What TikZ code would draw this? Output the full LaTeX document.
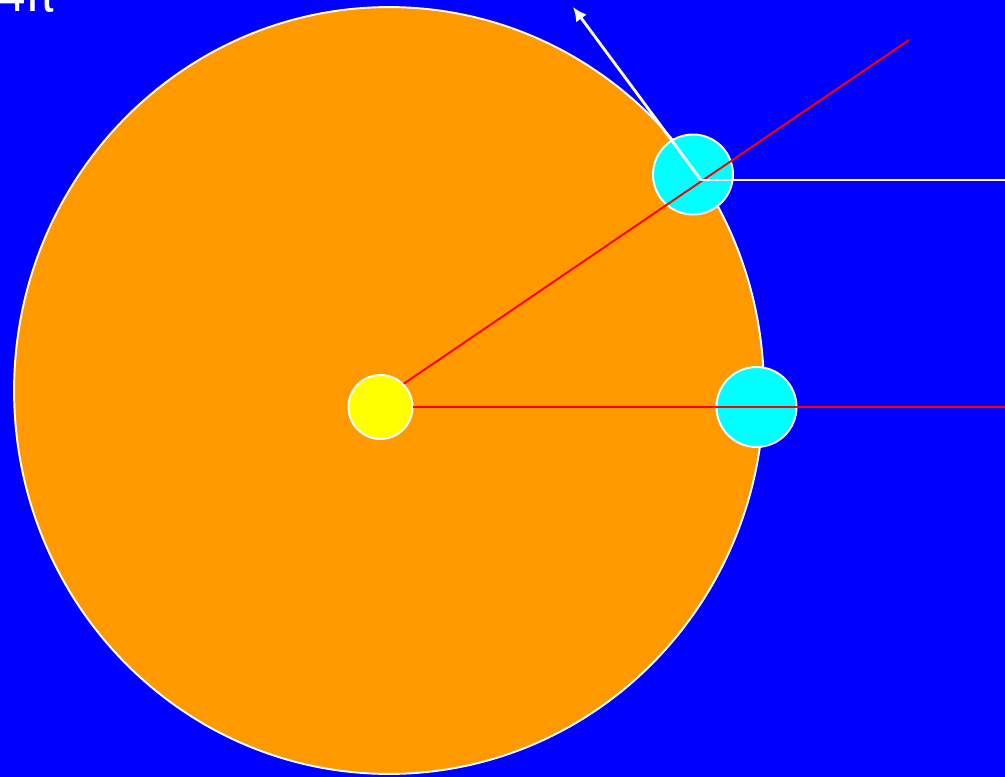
\documentclass[tikz,border=0pt]{standalone}
\usepackage{fontspec}
\setmainfont{Liberation Sans}
\newfontfamily\dejavu{DejaVu Sans}
\usetikzlibrary{arrows.meta}
\definecolor{skyblue}{HTML}{0000FF}
\definecolor{sunorange}{HTML}{FF9900}
\definecolor{moonfill}{HTML}{00FFFF}
\definecolor{corefill}{HTML}{FFFF00}
\tikzset{
  moonball/.style={circle, draw=white, fill=moonfill, line width=1.1pt,
                   minimum size=1.6cm, inner sep=0pt},
  coreball/.style={circle, draw=white, fill=corefill, line width=1.1pt,
                   minimum size=1.28cm, inner sep=0pt},
  ray/.style={red, line width=1.1pt},
  wline/.style={white, line width=1.2pt},
  warr/.style={-{Latex[length=8pt,width=7.5pt]}, white, line width=1.6pt},
}

\begin{document}
\begin{tikzpicture}[x=0.02cm, y=-0.02cm]
  %% Frame
  \useasboundingbox (0,0) rectangle (1005,777);
  \fill[skyblue] (0,0) rectangle (1005,777);

  %% Label, cut off at the top
  \node[text=white, font=\fontsize{28}{30}\selectfont, anchor=base west,
        inner sep=0pt] (title) at (-2,12) {4{\dejavu π}};

  %% Big disc
  \draw[white, fill=sunorange, line width=1.1pt]
    (389,390.5) ellipse [x radius=7.5cm, y radius=7.67cm];

  %% Centre and the two small discs
  \node[coreball] (core) at (380.5,407) {};
  \node[moonball] (moonA) at (693,174.5) {};
  \node[moonball] (moonB) at (756.5,407) {};

  \coordinate (pin) at (701,180);
  \coordinate (rayend) at (909,40);
  \coordinate (edgeA) at (1005,180);
  \coordinate (edgeB) at (1005,407);
  \coordinate (tip) at (573,7);

  %% Lines
  \draw[ray] (core.45) -- (rayend);
  \draw[ray] (core) -- (edgeB);
  \draw[wline] (pin) -- (edgeA);
  \draw[warr] (pin) -- (tip);
\end{tikzpicture}
\end{document}
